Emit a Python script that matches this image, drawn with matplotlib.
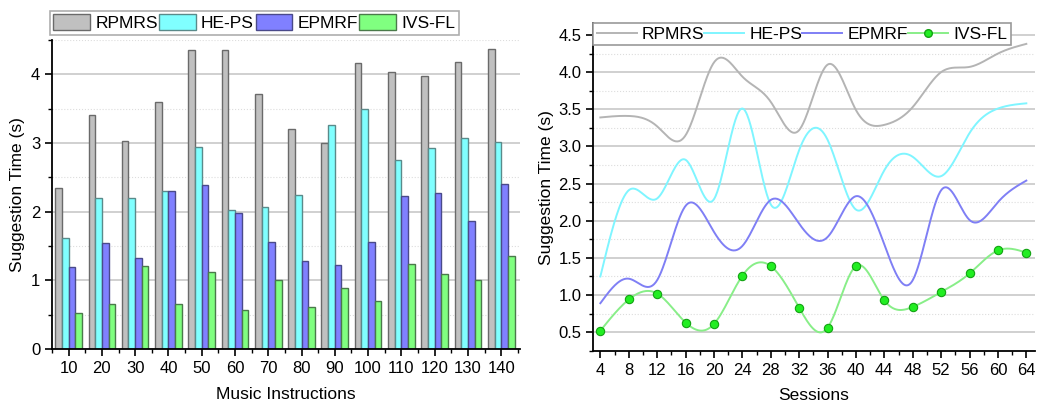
import numpy as np
import matplotlib
matplotlib.use("Agg")
import matplotlib.pyplot as plt
from matplotlib.ticker import MultipleLocator

plt.rcParams['font.family'] = ['Liberation Sans', 'DejaVu Sans']
plt.rcParams['font.size'] = 12.5

# left chart: bars
instructions = [10, 20, 30, 40, 50, 60, 70, 80, 90, 100, 110, 120, 130, 140]
bar_rpmrs = [2.35, 3.41, 3.03, 3.60, 4.35, 4.35, 3.71, 3.21, 3.00, 4.17, 4.04, 3.97, 4.18, 4.37]
bar_heps = [1.62, 2.20, 2.20, 2.30, 2.94, 2.03, 2.07, 2.24, 3.27, 3.50, 2.76, 2.93, 3.07, 3.01]
bar_epmrf = [1.19, 1.54, 1.32, 2.30, 2.39, 1.98, 1.56, 1.28, 1.23, 1.56, 2.23, 2.28, 1.87, 2.41]
bar_ivsfl = [0.52, 0.65, 1.21, 0.66, 1.12, 0.57, 1.01, 0.62, 0.89, 0.70, 1.24, 1.10, 1.01, 1.35]

# right chart: lines
sessions = [4, 8, 12, 16, 20, 24, 28, 32, 36, 40, 44, 48, 52, 56, 60, 64]
line_rpmrs = [3.39, 3.41, 3.27, 3.15, 4.13, 3.94, 3.60, 3.22, 4.10, 3.49, 3.29, 3.53, 4.00, 4.07, 4.25, 4.38]
line_heps = [1.25, 2.41, 2.30, 2.82, 2.29, 3.51, 2.22, 2.95, 3.09, 2.15, 2.68, 2.86, 2.60, 3.18, 3.51, 3.58]
line_epmrf = [0.89, 1.22, 1.20, 2.20, 1.85, 1.66, 2.28, 1.96, 1.78, 2.33, 1.68, 1.20, 2.41, 2.01, 2.25, 2.54]
line_ivsfl = [0.52, 0.94, 1.02, 0.63, 0.61, 1.26, 1.39, 0.83, 0.56, 1.39, 0.93, 0.84, 1.04, 1.29, 1.60, 1.57]

names = ["RPMRS", "HE-PS", "EPMRF", "IVS-FL"]
face = ["#c0c0c0", "#80ffff", "#8080ff", "#80ff80"]
edges = ["#6a6a6a", "#5a8a8a", "#4a4a8a", "#4a7a4a"]
lcol = ["#b4b4b4", "#7ff5ff", "#7f7ff5", "#88ee88"]


def spline(x, y, n=500):
    # natural cubic spline through the points
    x = np.asarray(x, float)
    y = np.asarray(y, float)
    h = np.diff(x)
    k = len(x)
    A = np.zeros((k, k))
    r = np.zeros(k)
    A[0, 0] = A[-1, -1] = 1
    for i in range(1, k - 1):
        A[i, i - 1] = h[i - 1]
        A[i, i] = 2 * (h[i - 1] + h[i])
        A[i, i + 1] = h[i]
        r[i] = 3 * ((y[i + 1] - y[i]) / h[i] - (y[i] - y[i - 1]) / h[i - 1])
    c = np.linalg.solve(A, r)
    b = (y[1:] - y[:-1]) / h - h * (2 * c[:-1] + c[1:]) / 3
    d = (c[1:] - c[:-1]) / (3 * h)
    xs = np.linspace(x[0], x[-1], n)
    idx = np.clip(np.searchsorted(x, xs) - 1, 0, k - 2)
    t = xs - x[idx]
    ys = y[idx] + b[idx] * t + c[idx] * t ** 2 + d[idx] * t ** 3
    return xs, ys


fig = plt.figure(figsize=(10.39, 4.05), dpi=100)
ax1 = fig.add_axes([0.050, 0.138, 0.450, 0.763])
ax2 = fig.add_axes([0.571, 0.133, 0.425, 0.810])

for ax in (ax1, ax2):
    for s in ("top", "right"):
        ax.spines[s].set_visible(False)
    ax.spines["left"].set_linewidth(1.3)
    ax.spines["bottom"].set_linewidth(1.3)
    ax.tick_params(which="major", direction="out", length=5, width=1.2, labelsize=12)
    ax.tick_params(which="minor", direction="out", length=3, width=1)
    ax.grid(which="major", axis="y", color="#c8c8c8", linewidth=1.2)
    ax.grid(which="minor", axis="y", color="#dddddd", linewidth=0.8, linestyle=":")
    ax.set_axisbelow(True)

# bars
x = np.array(instructions, float)
bw = 2.0
series = [bar_rpmrs, bar_heps, bar_epmrf, bar_ivsfl]
offs = [-3, -1, 1, 3]
for vals, o, fc, ec, nm in zip(series, offs, face, edges, names):
    ax1.bar(x + o, vals, width=bw, color=fc, edgecolor=ec, linewidth=1.0, label=nm)
ax1.set_xlim(5, 145.5)
ax1.set_ylim(0, 4.5)
ax1.set_xticks(instructions)
ax1.xaxis.set_minor_locator(MultipleLocator(5))
ax1.yaxis.set_major_locator(MultipleLocator(1))
ax1.yaxis.set_minor_locator(MultipleLocator(0.5))
ax1.set_xlabel("Music Instructions", labelpad=8)
ax1.set_ylabel("Suggestion Time (s)", labelpad=4)

h1, l1 = ax1.get_legend_handles_labels()
leg1 = fig.legend(h1, l1, loc="upper left", bbox_to_anchor=(50 / 1039, 1 - 11 / 405),
                  ncol=4, frameon=True, fancybox=False, borderaxespad=0,
                  handlelength=2.1, handleheight=1.0, columnspacing=0.1,
                  handletextpad=0.3, borderpad=0.2, fontsize=12.5)
leg1.get_frame().set_edgecolor("#999999")
leg1.get_frame().set_linewidth(1.2)

# lines
lines = [line_rpmrs, line_heps, line_epmrf, line_ivsfl]
for vals, lc, nm in zip(lines, lcol, names):
    xs, ys = spline(sessions, vals)
    if nm == "IVS-FL":
        ax2.plot(xs, ys, color=lc, linewidth=1.4)
        ax2.plot(sessions, vals, linestyle="none", marker="o", markersize=6,
                 markerfacecolor="#22ee22", markeredgecolor="#13a313", markeredgewidth=0.8)
        ax2.plot([], [], color=lc, linewidth=1.4, marker="o", markersize=5.5,
                 markerfacecolor="#22ee22", markeredgecolor="#13a313", label=nm)
    else:
        ax2.plot(xs, ys, color=lc, linewidth=1.4, label=nm)
ax2.set_xlim(3, 65.2)
ax2.set_ylim(0.245, 4.66)
ax2.set_xticks(sessions)
ax2.xaxis.set_minor_locator(MultipleLocator(2))
ax2.set_yticks([0.5, 1.0, 1.5, 2.0, 2.5, 3.0, 3.5, 4.0, 4.5])
ax2.yaxis.set_minor_locator(MultipleLocator(0.25))
ax2.yaxis.set_major_formatter(matplotlib.ticker.FormatStrFormatter("%.1f"))
ax2.set_xlabel("Sessions", labelpad=7)
ax2.set_ylabel("Suggestion Time (s)", labelpad=3)

leg2 = ax2.legend(loc="upper left", bbox_to_anchor=(0.0, 1.0), ncol=4, frameon=True,
                  fancybox=False, borderaxespad=0, handlelength=2.3, columnspacing=0.0,
                  handletextpad=0.3, borderpad=0.2, fontsize=12.5, framealpha=1)
leg2.get_frame().set_edgecolor("#999999")
leg2.get_frame().set_linewidth(1.2)

fig.savefig("out.png", dpi=100)
